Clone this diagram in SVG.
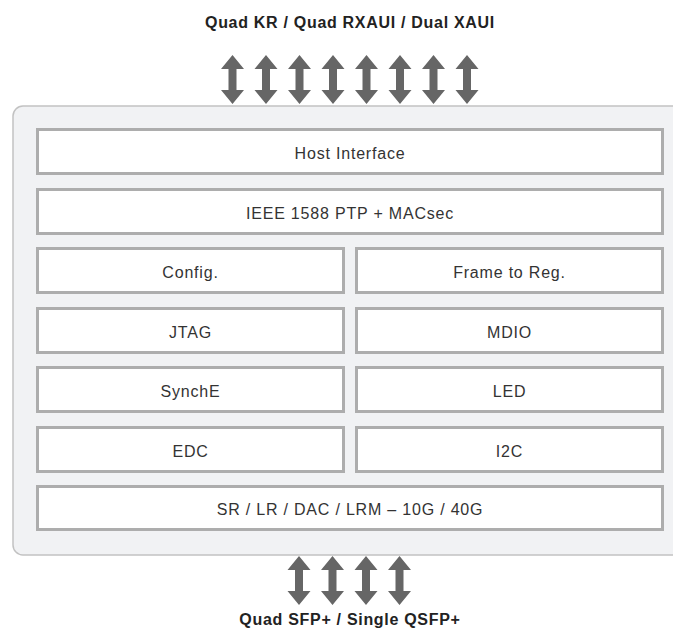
<svg xmlns="http://www.w3.org/2000/svg" width="673" height="629" viewBox="0 0 673 629">
<style>
.box{fill:#ffffff;stroke:#adadad;stroke-width:3}
.lbl{font-family:"Liberation Sans",Arial,sans-serif;font-size:16px;fill:#333333;text-anchor:middle;letter-spacing:0.8px}
.ttl{font-family:"Liberation Sans",Arial,sans-serif;font-size:16px;font-weight:bold;fill:#222222;text-anchor:middle;letter-spacing:0.7px}
.arr{fill:#666666}
</style>
<defs>
<path id="dbl" d="M0,0 L11.5,14 L4,14 L4,35 L11.5,35 L0,49 L-11.5,35 L-4,35 L-4,14 L-11.5,14 Z"/>
</defs>
<rect width="673" height="629" fill="#ffffff"/>
<text class="ttl" x="350" y="28">Quad KR / Quad RXAUI / Dual XAUI</text>
<g id="chip">
<rect x="13" y="106" width="680" height="449" rx="10" fill="#f1f2f4" stroke="#c2c2c2" stroke-width="1.5"/>
</g>
<g id="host"><rect class="box" x="37.5" y="129.5" width="625" height="44"/><text class="lbl" x="350" y="159">Host Interface</text></g>
<g id="ieee"><rect class="box" x="37.5" y="189.5" width="625" height="44"/><text class="lbl" x="350" y="219">IEEE 1588 PTP + MACsec</text></g>
<g id="config"><rect class="box" x="37.5" y="248.5" width="306" height="44"/><text class="lbl" x="190.5" y="278">Config.</text></g>
<g id="frame"><rect class="box" x="356.5" y="248.5" width="306" height="44"/><text class="lbl" x="509.5" y="278">Frame to Reg.</text></g>
<g id="jtag"><rect class="box" x="37.5" y="308.5" width="306" height="44"/><text class="lbl" x="190.5" y="338">JTAG</text></g>
<g id="mdio"><rect class="box" x="356.5" y="308.5" width="306" height="44"/><text class="lbl" x="509.5" y="338">MDIO</text></g>
<g id="synche"><rect class="box" x="37.5" y="367.5" width="306" height="44"/><text class="lbl" x="190.5" y="397">SynchE</text></g>
<g id="led"><rect class="box" x="356.5" y="367.5" width="306" height="44"/><text class="lbl" x="509.5" y="397">LED</text></g>
<g id="edc"><rect class="box" x="37.5" y="427.5" width="306" height="44"/><text class="lbl" x="190.5" y="457">EDC</text></g>
<g id="i2c"><rect class="box" x="356.5" y="427.5" width="306" height="44"/><text class="lbl" x="509.5" y="457">I2C</text></g>
<g id="sr"><rect class="box" x="37.5" y="486.5" width="625" height="43"/><text class="lbl" x="350" y="515">SR / LR / DAC / LRM – 10G / 40G</text></g>
<g id="connectors" class="arr">
<use href="#dbl" transform="translate(232.5,55)"/>
<use href="#dbl" transform="translate(266,55)"/>
<use href="#dbl" transform="translate(299.5,55)"/>
<use href="#dbl" transform="translate(333,55)"/>
<use href="#dbl" transform="translate(366.5,55)"/>
<use href="#dbl" transform="translate(400,55)"/>
<use href="#dbl" transform="translate(433.5,55)"/>
<use href="#dbl" transform="translate(467,55)"/>
<use href="#dbl" transform="translate(299,556)"/>
<use href="#dbl" transform="translate(332.5,556)"/>
<use href="#dbl" transform="translate(366,556)"/>
<use href="#dbl" transform="translate(399.5,556)"/>
</g>
<text class="ttl" x="350" y="625">Quad SFP+ / Single QSFP+</text>
</svg>
